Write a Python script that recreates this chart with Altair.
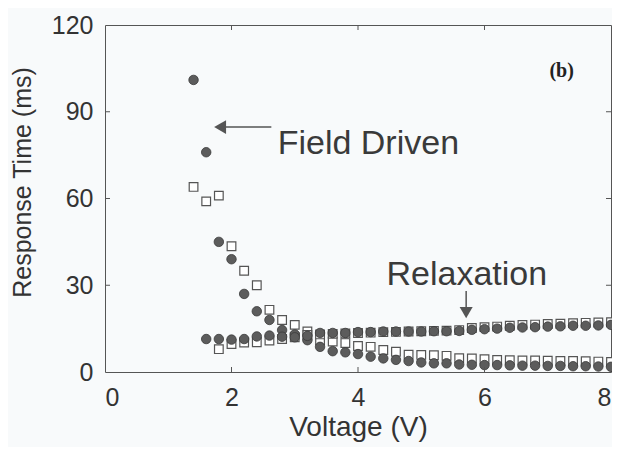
import altair as alt
import pandas as pd

voltage = [1.4, 1.6, 1.8, 2.0, 2.2, 2.4, 2.6, 2.8, 3.0, 3.2, 3.4, 3.6, 3.8, 4.0, 4.2, 4.4, 4.6,
           4.8, 5.0, 5.2, 5.4, 5.6, 5.8, 6.0, 6.2, 6.4, 6.6, 6.8, 7.0, 7.2, 7.4, 7.6, 7.8, 8.0]

field_circle = [101, 76, 45, 39, 27, 21, 18, 14.5, 13, 11, 8.7, 7.2, 6.8, 6.2, 5.3, 4.7, 4.2,
                3.8, 3.3, 3.0, 3.0, 2.6, 2.5, 2.4, 2.4, 2.3, 2.2, 2.2, 2.1, 2.1, 2.0, 2.0, 1.9, 1.8]
field_square = [64, 59, 61, 43.5, 35, 30, 21.5, 18, 16.3, 14, 11, 10.5, 10, 9, 8.7, 7.6, 7.0,
                6.0, 5.9, 5.8, 5.6, 4.8, 4.7, 4.4, 4.2, 4.1, 4.0, 4.0, 3.9, 3.8, 3.8, 3.7, 3.6, 3.5]

relax_circle_v = voltage[1:]
relax_circle = [11.4, 11.4, 11.2, 11.4, 12.3, 12.6, 12.2, 12, 12.5, 13.5, 13.5, 13.5, 13.8, 13.8,
                14, 14, 14, 14, 14.1, 14.1, 14.2, 14.6, 14.8, 15, 15.3, 15.4, 15.5, 15.7, 15.8,
                16, 16, 16.1, 16.3]
relax_square_v = voltage[2:]
relax_square = [7.9, 9.7, 10.2, 10.3, 10.9, 11.4, 12, 12.8, 13, 13.2, 13.3, 13.5, 13.6, 13.8,
                13.9, 14, 14.1, 14.2, 14.3, 14.5, 15.2, 15.5, 15.7, 16, 16.3, 16.4, 16.6, 16.7,
                16.9, 17, 17.1, 17.2]

x_ticks = [0, 2, 4, 6, 8]
y_ticks = [0, 30, 60, 90, 120]
inner_x_ticks = [2, 4, 6]
inner_y_ticks = [30, 60, 90]

labels = ["Field Driven", "Relaxation"]
label_x = [2.73, 4.45]
label_y = [79, 33.5]
panel_label = "(b)"

W, H = 506, 347
FONT = "Liberation Sans"
GRAY = "#555555"

squares = pd.DataFrame({"V": voltage + relax_square_v, "R": field_square + relax_square})
circles = pd.DataFrame({"V": voltage + relax_circle_v, "R": field_circle + relax_circle})

xs = alt.Scale(domain=[0, 8], nice=False, padding=0)
ys = alt.Scale(domain=[0, 120], nice=False, padding=0)

x_enc = alt.X("V:Q", scale=xs, title="Voltage (V)",
              axis=alt.Axis(values=x_ticks, grid=False, tickSize=0, domain=False,
                            labelPadding=13, titlePadding=3, format="d", titleFontSize=28))
y_enc = alt.Y("R:Q", scale=ys, title="Response Time (ms)",
              axis=alt.Axis(values=y_ticks, grid=False, tickSize=0, domain=False,
                            labelPadding=12, titlePadding=16, format="d", titleFontSize=25,
                            titleY=157))

sq_layer = alt.Chart(squares).mark_point(shape="square", filled=True, fill="white",
                                         stroke=GRAY, strokeWidth=1.2, size=75, opacity=1).encode(
    x=x_enc, y=y_enc)
ci_layer = alt.Chart(circles).mark_circle(size=90, color="#5c5c5c", stroke="#3a3a3a",
                                          strokeWidth=0.8, opacity=1).encode(
    x=alt.X("V:Q", scale=xs), y=alt.Y("R:Q", scale=ys))

# inward ticks
tx = pd.DataFrame({"t": inner_x_ticks})
ty = pd.DataFrame({"t": inner_y_ticks})
tick_b = alt.Chart(tx).mark_rule(color=GRAY, strokeWidth=1).encode(
    x=alt.X("t:Q", scale=xs), y=alt.value(H), y2=alt.value(H - 5))
tick_t = alt.Chart(tx).mark_rule(color=GRAY, strokeWidth=1).encode(
    x=alt.X("t:Q", scale=xs), y=alt.value(0), y2=alt.value(5))
tick_l = alt.Chart(ty).mark_rule(color=GRAY, strokeWidth=1).encode(
    y=alt.Y("t:Q", scale=ys), x=alt.value(0), x2=alt.value(5))
tick_r = alt.Chart(ty).mark_rule(color=GRAY, strokeWidth=1).encode(
    y=alt.Y("t:Q", scale=ys), x=alt.value(W), x2=alt.value(W - 5))

# annotations
txt = pd.DataFrame({"x": label_x, "y": label_y, "text": labels})
text_layer = alt.Chart(txt).mark_text(align="left", baseline="middle", font=FONT,
                                      fontSize=34, color="#3a3a3a").encode(
    x=alt.X("x:Q", scale=xs), y=alt.Y("y:Q", scale=ys), text="text:N")

panel = pd.DataFrame({"x": [7.22], "y": [104], "text": [panel_label]})
panel_layer = alt.Chart(panel).mark_text(font="Liberation Serif", fontWeight="bold",
                                         fontSize=20, color="#222222").encode(
    x=alt.X("x:Q", scale=xs), y=alt.Y("y:Q", scale=ys), text="text:N")

arrow_lines = pd.DataFrame({"x": [1.85, 5.71], "x2": [2.63, 5.71], "y": [84.7, 28.0], "y2": [84.7, 21.0]})
arrow_layer = alt.Chart(arrow_lines).mark_rule(color=GRAY, strokeWidth=1.5).encode(
    x=alt.X("x:Q", scale=xs), x2="x2:Q", y=alt.Y("y:Q", scale=ys), y2="y2:Q")

head_l = pd.DataFrame({"x": [1.82], "y": [84.7]})
head_d = pd.DataFrame({"x": [5.71], "y": [20.5]})
head_l_layer = alt.Chart(head_l).mark_point(shape="triangle-left", filled=True, color=GRAY,
                                            size=190, opacity=1).encode(
    x=alt.X("x:Q", scale=xs), y=alt.Y("y:Q", scale=ys))
head_d_layer = alt.Chart(head_d).mark_point(shape="triangle-down", filled=True, color=GRAY,
                                            size=170, opacity=1).encode(
    x=alt.X("x:Q", scale=xs), y=alt.Y("y:Q", scale=ys))

chart = alt.layer(
    sq_layer, ci_layer, tick_b, tick_t, tick_l, tick_r,
    arrow_layer, head_l_layer, head_d_layer, text_layer, panel_layer
).properties(
    width=W, height=H,
    autosize="none",
    padding={"left": 97, "top": 17, "right": 1, "bottom": 75},
    background="#f8fafb",
).configure_view(
    stroke=GRAY, strokeWidth=1
).configure_axis(
    labelFont=FONT, labelFontSize=25, labelColor="#333333",
    titleFont=FONT, titleFontWeight="normal", titleColor="#333333",
)

chart.save("out.html", embed_options={"renderer": "svg", "actions": False})
